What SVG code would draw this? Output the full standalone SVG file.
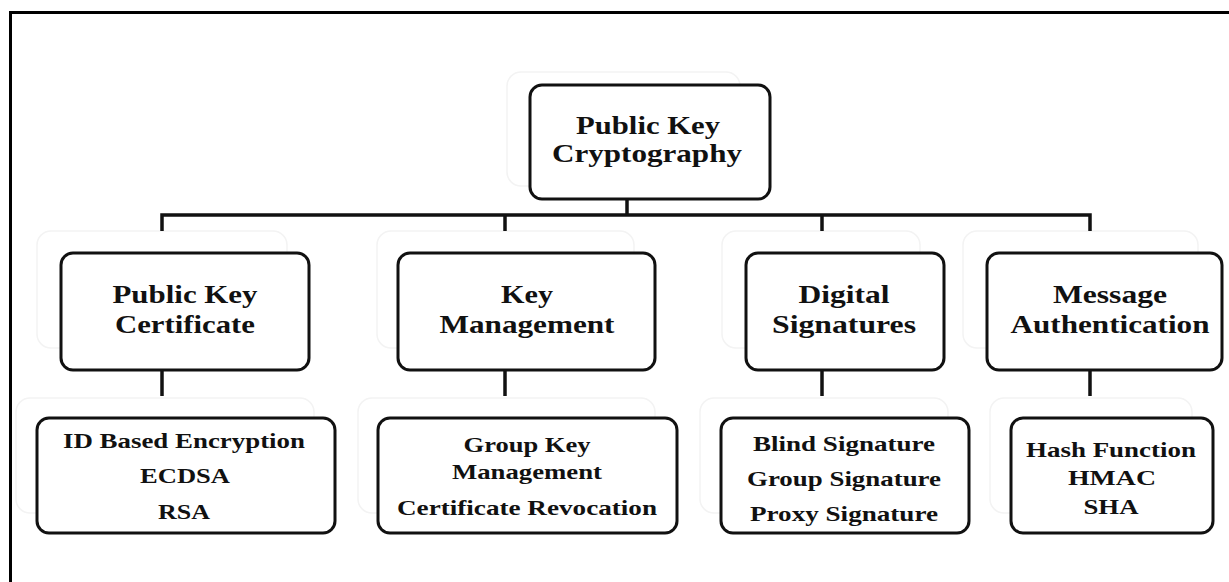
<svg xmlns="http://www.w3.org/2000/svg" width="1229" height="582" viewBox="0 0 1229 582">
<style>
.box{fill:#ffffff;stroke:#111111;stroke-width:3}
.shadow{fill:none;stroke:#f3f3f3;stroke-width:1.5}
.conn{stroke:#111111;stroke-width:3.5;fill:none}
.lbl{font-family:'Liberation Serif','Times New Roman',Times,serif;font-weight:700;fill:#111111;text-anchor:middle}
.t1{font-size:25px}
.t2{font-size:26px}
.t3{font-size:22px}
</style>
<rect x="0" y="0" width="1229" height="582" fill="#ffffff"/>
<path d="M10.5 582 V12.5 H1229" fill="none" stroke="#000000" stroke-width="3"/>
<g id="shadows">
<rect class="shadow" x="507" y="72" width="233" height="114" rx="14"/>
<rect class="shadow" x="37" y="231" width="250" height="117" rx="14"/>
<rect class="shadow" x="377" y="231" width="257" height="117" rx="14"/>
<rect class="shadow" x="722" y="231" width="198" height="117" rx="14"/>
<rect class="shadow" x="963" y="231" width="235" height="117" rx="14"/>
<rect class="shadow" x="16" y="398" width="298" height="115" rx="14"/>
<rect class="shadow" x="358" y="398" width="297" height="115" rx="14"/>
<rect class="shadow" x="700" y="398" width="248" height="115" rx="14"/>
<rect class="shadow" x="990" y="398" width="202" height="115" rx="14"/>
</g>
<g id="connectors">
<path class="conn" d="M627 199 V215"/>
<path class="conn" d="M162 231 V215 H1090 V231"/>
<path class="conn" d="M505 215 V231"/>
<path class="conn" d="M822 215 V231"/>
<path class="conn" d="M162 370 V396"/>
<path class="conn" d="M505 370 V396"/>
<path class="conn" d="M822 370 V396"/>
<path class="conn" d="M1090 370 V396"/>
</g>
<g id="root">
<rect class="box" x="530" y="85" width="240" height="114" rx="12"/>
<text class="lbl t1" x="648" y="134" textLength="144" lengthAdjust="spacingAndGlyphs">Public Key</text>
<text class="lbl t1" x="647" y="162" textLength="190" lengthAdjust="spacingAndGlyphs">Cryptography</text>
</g>
<g id="public-key-certificate">
<rect class="box" x="61" y="253" width="248" height="117" rx="12"/>
<text class="lbl t2" x="185" y="303" textLength="145" lengthAdjust="spacingAndGlyphs">Public Key</text>
<text class="lbl t2" x="185" y="333" textLength="140" lengthAdjust="spacingAndGlyphs">Certificate</text>
</g>
<g id="key-management">
<rect class="box" x="398" y="253" width="257" height="117" rx="12"/>
<text class="lbl t2" x="527" y="303" textLength="52" lengthAdjust="spacingAndGlyphs">Key</text>
<text class="lbl t2" x="527" y="333" textLength="175" lengthAdjust="spacingAndGlyphs">Management</text>
</g>
<g id="digital-signatures">
<rect class="box" x="746" y="253" width="198" height="117" rx="12"/>
<text class="lbl t2" x="844" y="303" textLength="91" lengthAdjust="spacingAndGlyphs">Digital</text>
<text class="lbl t2" x="844" y="333" textLength="144" lengthAdjust="spacingAndGlyphs">Signatures</text>
</g>
<g id="message-authentication">
<rect class="box" x="987" y="253" width="235" height="117" rx="12"/>
<text class="lbl t2" x="1110" y="303" textLength="114" lengthAdjust="spacingAndGlyphs">Message</text>
<text class="lbl t2" x="1110" y="333" textLength="199" lengthAdjust="spacingAndGlyphs">Authentication</text>
</g>
<g id="pkc-methods">
<rect class="box" x="37" y="418" width="298" height="115" rx="12"/>
<text class="lbl t3" x="184" y="448" textLength="242" lengthAdjust="spacingAndGlyphs">ID Based Encryption</text>
<text class="lbl t3" x="185" y="483" textLength="90" lengthAdjust="spacingAndGlyphs">ECDSA</text>
<text class="lbl t3" x="184" y="519" textLength="52" lengthAdjust="spacingAndGlyphs">RSA</text>
</g>
<g id="km-methods">
<rect class="box" x="378" y="418" width="299" height="115" rx="12"/>
<text class="lbl t3" x="527" y="452" textLength="127" lengthAdjust="spacingAndGlyphs">Group Key</text>
<text class="lbl t3" x="527" y="479" textLength="150" lengthAdjust="spacingAndGlyphs">Management</text>
<text class="lbl t3" x="527" y="515" textLength="260" lengthAdjust="spacingAndGlyphs">Certificate Revocation</text>
</g>
<g id="ds-methods">
<rect class="box" x="721" y="418" width="248" height="115" rx="12"/>
<text class="lbl t3" x="844" y="451" textLength="182" lengthAdjust="spacingAndGlyphs">Blind Signature</text>
<text class="lbl t3" x="844" y="486" textLength="194" lengthAdjust="spacingAndGlyphs">Group Signature</text>
<text class="lbl t3" x="844" y="521" textLength="188" lengthAdjust="spacingAndGlyphs">Proxy Signature</text>
</g>
<g id="ma-methods">
<rect class="box" x="1011" y="418" width="202" height="115" rx="12"/>
<text class="lbl t3" x="1111" y="457" textLength="170" lengthAdjust="spacingAndGlyphs">Hash Function</text>
<text class="lbl t3" x="1112" y="485" textLength="88" lengthAdjust="spacingAndGlyphs">HMAC</text>
<text class="lbl t3" x="1111" y="514" textLength="55" lengthAdjust="spacingAndGlyphs">SHA</text>
</g>
</svg>
